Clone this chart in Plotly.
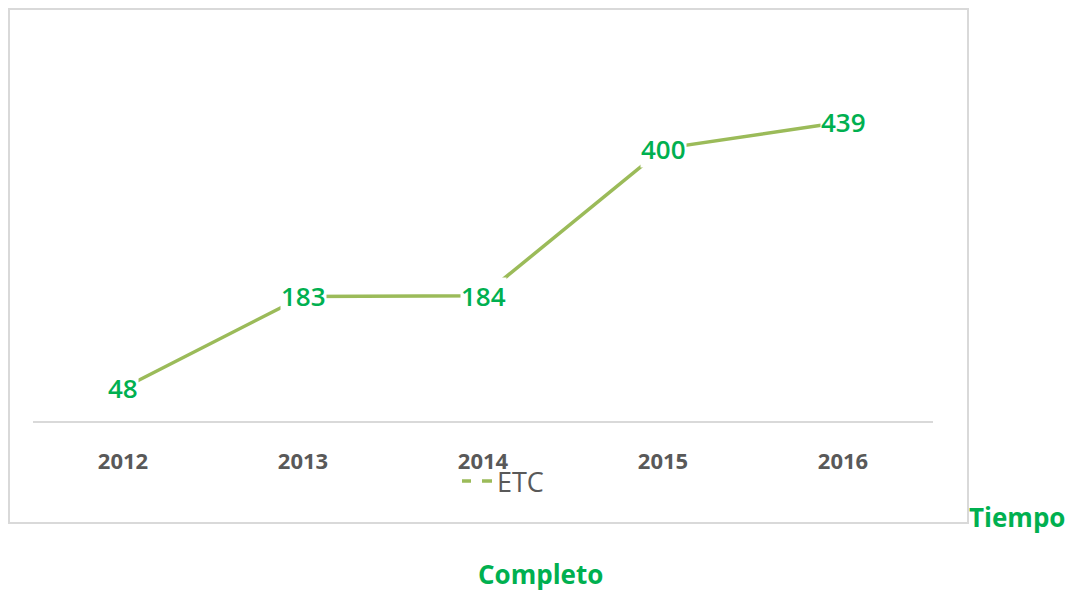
import plotly.graph_objects as go

years = ["2012", "2013", "2014", "2015", "2016"]
etc_values = [48, 183, 184, 400, 439]
series_name = "ETC"
x_title = "Tiempo"
y_title = "Completo"

LINE = "#9BBB59"
LABEL = "#00B050"
GRAY = "#595959"
BORDER = "#D9D9D9"
FONT = "Open Sans"

# page is offset by the 8px body margin, so figure coords = page coords - 8
W, H = 1068, 586
ml, mr, mt, mb = 25, 143, 72, 173
pw = W - ml - mr
ph = H - mt - mb

def px_x(p):
    return (p - ml) / pw

def px_y(p):
    return (H - mb - p) / ph

fig = go.Figure()
fig.add_trace(go.Scatter(
    x=years, y=etc_values, mode="lines",
    line=dict(color=LINE, width=3.5),
    showlegend=False, hoverinfo="skip",
))
fig.add_trace(go.Scatter(
    x=[None], y=[None], mode="lines", name=series_name,
    line=dict(color=LINE, width=3.5, dash="9px,11px,10px"),
    showlegend=True,
))

for i, yv in enumerate(etc_values):
    fig.add_annotation(
        x=i, y=yv, xref="x", yref="y", text=str(yv), showarrow=False,
        xanchor="center", yanchor="middle",
        font=dict(family=FONT, size=26, color=LABEL, weight=600),
        bgcolor="white", borderpad=0,
    )

fig.add_shape(type="rect", xref="paper", yref="paper",
              x0=px_x(1), x1=px_x(960), y0=px_y(515), y1=px_y(1),
              line=dict(color=BORDER, width=2), fillcolor="rgba(0,0,0,0)", layer="below")

fig.add_annotation(x=px_x(1009), y=px_y(509), xref="paper", yref="paper",
                   text=x_title, showarrow=False, xanchor="center", yanchor="middle",
                   font=dict(family=FONT, size=26, color=LABEL, weight="bold"))
fig.add_annotation(x=px_x(532), y=px_y(566), xref="paper", yref="paper",
                   text=y_title, showarrow=False, xanchor="center", yanchor="middle",
                   font=dict(family=FONT, size=26, color=LABEL, weight="bold"))

fig.update_layout(
    width=W, height=H,
    margin=dict(l=ml, r=mr, t=mt, b=mb),
    paper_bgcolor="white", plot_bgcolor="white",
    font=dict(family=FONT),
    legend=dict(orientation="h", x=px_x(449), y=px_y(449), xanchor="left", yanchor="top",
                font=dict(family=FONT, size=27, color=GRAY),
                bgcolor="rgba(0,0,0,0)"),
    xaxis=dict(
        type="category", range=[-0.5, 4.5],
        showline=True, linecolor=BORDER, linewidth=2,
        showgrid=False, zeroline=False,
        ticks="", ticklabelstandoff=20,
        tickfont=dict(family=FONT, size=22, color=GRAY, weight="bold"),
    ),
    yaxis=dict(
        range=[0, ph / 0.681], showticklabels=False, showline=False,
        showgrid=False, zeroline=False, ticks="",
    ),
)

fig.write_html("out.html")
